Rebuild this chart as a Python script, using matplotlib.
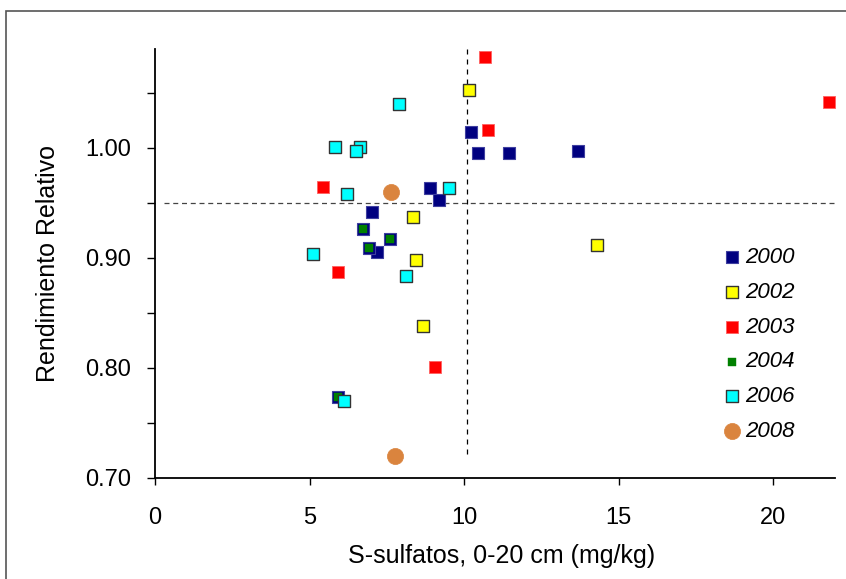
import matplotlib
matplotlib.use("Agg")
import matplotlib.pyplot as plt
from matplotlib.patches import Rectangle

plt.rcParams['font.family'] = ['Liberation Sans', 'DejaVu Sans']

# ---- data ----
x2000 = [10.23, 10.46, 11.46, 13.68, 8.90, 9.18, 7.03, 7.18, 6.73, 7.61, 6.92, 5.93]
y2000 = [1.0145, 0.9955, 0.9955, 0.997, 0.964, 0.953, 0.942, 0.9055, 0.926, 0.917, 0.909, 0.774]
x2002 = [10.16, 8.34, 8.43, 8.67, 14.30]
y2002 = [1.053, 0.9375, 0.898, 0.8385, 0.912]
x2003 = [10.68, 10.77, 5.43, 5.91, 9.07, 21.82]
y2003 = [1.0825, 1.016, 0.965, 0.887, 0.801, 1.042]
x2004 = [6.73, 7.61, 6.92, 5.93]
y2004 = [0.926, 0.917, 0.909, 0.774]
x2006 = [7.91, 5.83, 6.63, 6.50, 6.21, 9.50, 5.12, 8.11, 6.13]
y2006 = [1.040, 1.001, 1.001, 0.9976, 0.958, 0.964, 0.9036, 0.8836, 0.770]
x2008 = [7.63, 7.75]
y2008 = [0.960, 0.720]

x_thresh = 10.1
y_thresh = 0.95

xticks = [0, 5, 10, 15, 20]
yticks_major = [0.70, 0.80, 0.90, 1.00]
yticks_minor = [0.75, 0.85, 0.95, 1.05]

fig = plt.figure(figsize=(8.46, 5.79), dpi=100)
# outer frame
fig.patches.append(Rectangle((6/846, -0.1), 1.2, 1 - 11/579 + 0.1,
                             transform=fig.transFigure, fill=False,
                             edgecolor='#555555', linewidth=1.2))

ax = fig.add_axes([155/846, (579-478)/579, (835-155)/846, (478-49)/579])

ax.axvline(x_thresh, ymin=(0.722-0.70)/0.39, ymax=1.0, color='black',
           linestyle=(0, (4, 4)), linewidth=0.9, zorder=1)
ax.plot([0.3, 22], [y_thresh, y_thresh], color='#444444',
        linestyle=(0, (4, 3)), linewidth=0.9, zorder=1)

sq = 78
ax.scatter(x2000, y2000, marker='s', s=sq, color='#000080', edgecolors='#4040a0',
           linewidths=0.8, label='2000', zorder=3)
ax.scatter(x2002, y2002, marker='s', s=sq, color='#FFFF00', edgecolors='#333333',
           linewidths=1.0, label='2002', zorder=3)
ax.scatter(x2003, y2003, marker='s', s=sq, color='#FF0000', edgecolors='#ff6060',
           linewidths=0.6, label='2003', zorder=3)
ax.scatter(x2004, y2004, marker='s', s=36, color='#008000', edgecolors='#008000',
           linewidths=0.3, label='2004', zorder=4)
ax.scatter(x2006, y2006, marker='s', s=sq, color='#00FFFF', edgecolors='#333333',
           linewidths=1.0, label='2006', zorder=5)
ax.scatter(x2008, y2008, marker='o', s=135, color='#DA843E', edgecolors='#DA843E',
           linewidths=0.5, label='2008', zorder=3)

ax.set_xlim(0, 22)
ax.set_ylim(0.70, 1.09)
ax.set_xticks(xticks)
ax.set_xticklabels([str(t) for t in xticks])
ax.set_yticks(yticks_major)
ax.set_yticklabels(['%.2f' % t for t in yticks_major])
ax.set_yticks(yticks_minor, minor=True)

for s in ['top', 'right']:
    ax.spines[s].set_visible(False)
for s in ['left', 'bottom']:
    ax.spines[s].set_linewidth(1.3)

ax.tick_params(axis='y', which='major', direction='out', length=6, width=1,
               labelsize=17, pad=11)
ax.tick_params(axis='y', which='minor', direction='out', length=6, width=1)
ax.tick_params(axis='x', which='major', direction='out', length=5, width=1,
               labelsize=17, pad=16)

ax.set_xlabel('S-sulfatos, 0-20 cm (mg/kg)', fontsize=18, labelpad=9)
ax.xaxis.set_label_coords(0.51, -0.155)
ax.set_ylabel('Rendimiento Relativo', fontsize=18, labelpad=18)

leg = ax.legend(loc='upper left', bbox_to_anchor=(710/846, 1 - 236/579),
                bbox_transform=fig.transFigure, frameon=False,
                prop={'size': 16, 'style': 'italic'}, labelspacing=0.62,
                handletextpad=0.1, handlelength=1.0, borderpad=0, scatterpoints=1)

fig.savefig('out.png', dpi=100)
